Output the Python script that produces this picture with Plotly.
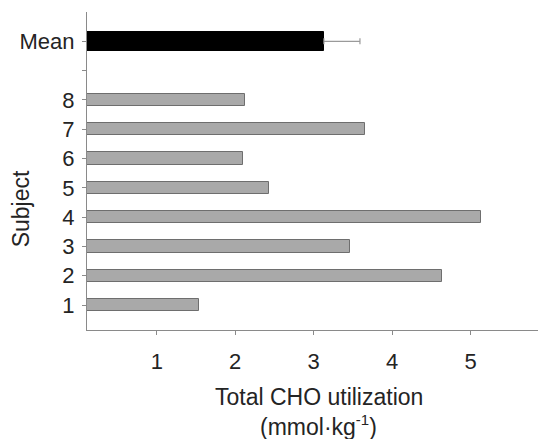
import plotly.graph_objects as go

# Total carbohydrate utilization per subject, plus the group mean
subjects = [1, 2, 3, 4, 5, 6, 7, 8]
cho_values = [1.54, 4.64, 3.46, 5.13, 2.43, 2.10, 3.66, 2.13]
mean_pos = 10
mean_value = 3.13
mean_error = 0.46

tick_vals = [1, 2, 3, 4, 5, 6, 7, 8, 10]
tick_text = ["1", "2", "3", "4", "5", "6", "7", "8", "Mean"]
spacer_tick = [9]
x_ticks = [1, 2, 3, 4, 5]

family = "Liberation Sans, Arial, sans-serif"
tick_font = dict(family=family, size=22, color="#242424")
title_font = dict(family=family, size=23, color="#242424")
axis_grey = "#8a8a8a"

fig = go.Figure()

fig.add_trace(go.Bar(
    y=subjects, x=cho_values, orientation="h", width=0.42,
    marker=dict(color="#a9a9a9", line=dict(color="#6e6e6e", width=1)),
    showlegend=False,
))

fig.add_trace(go.Bar(
    y=[mean_pos], x=[mean_value], orientation="h", width=0.65,
    marker=dict(color="#000000", line=dict(color="#000000", width=1)),
    error_x=dict(type="data", symmetric=False, array=[mean_error], arrayminus=[0],
                 color="#9a9a9a", thickness=1.2, width=3),
    showlegend=False,
))

fig.update_layout(
    width=539, height=439,
    margin=dict(l=87, r=1, t=12, b=109),
    plot_bgcolor="white", paper_bgcolor="white",
    font=tick_font,
    bargap=0,
    xaxis=dict(
        range=[0.11, 5.86], tickvals=x_ticks, ticks="outside", ticklen=4,
        tickcolor=axis_grey, showline=True, linecolor=axis_grey, linewidth=1.3,
        showgrid=False, zeroline=False, tickfont=tick_font, ticklabelstandoff=7,
    ),
    yaxis=dict(
        range=[0.15, 11], tickvals=tick_vals, ticktext=tick_text, ticks="outside",
        ticklen=4, tickcolor=axis_grey, showline=True, linecolor=axis_grey,
        linewidth=1.3, showgrid=False, zeroline=False, tickfont=tick_font,
        ticklabelstandoff=3,
        minor=dict(tickvals=spacer_tick, ticks="outside", ticklen=4,
                   tickcolor=axis_grey, showgrid=False),
    ),
    annotations=[
        dict(text="Total CHO utilization",
             xref="paper", yref="paper", x=0.514, y=-0.211,
             xanchor="center", yanchor="middle", showarrow=False, font=title_font),
        dict(text="(mmol·kg<sup><span style='font-size:15px'>-1</span></sup>)",
             xref="paper", yref="paper", x=0.514, y=-0.299,
             xanchor="center", yanchor="middle", showarrow=False, font=title_font),
        dict(text="Subject", textangle=-90,
             xref="paper", yref="paper", x=-0.146, y=0.38,
             xanchor="center", yanchor="middle", showarrow=False, font=title_font),
    ],
)

fig.write_html("out.html")
